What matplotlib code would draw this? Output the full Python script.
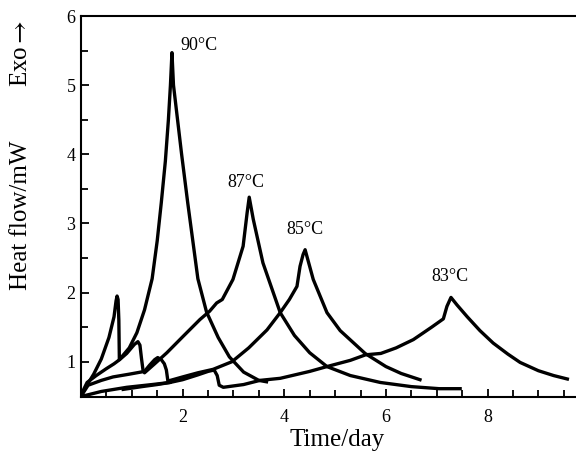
import matplotlib
matplotlib.use('Agg')
import matplotlib.pyplot as plt
from matplotlib.ticker import MultipleLocator

plt.rcParams['font.family'] = ['Liberation Serif', 'DejaVu Serif']
plt.rcParams['mathtext.fontset'] = 'stix'

# 90 C : spike, then main peak
t90 = [0.0, 0.1, 0.25, 0.4, 0.55, 0.65, 0.69, 0.71, 0.73, 0.745, 0.755,
       0.95, 1.1, 1.25, 1.4, 1.5, 1.58, 1.66, 1.72, 1.76, 1.79,
       1.82, 1.9, 1.98, 2.1, 2.2, 2.3, 2.47, 2.7, 2.92, 3.2, 3.5, 3.65]
q90 = [0.5, 0.64, 0.82, 1.04, 1.35, 1.65, 1.88, 1.95, 1.9, 1.6, 1.03,
       1.2, 1.42, 1.75, 2.2, 2.75, 3.3, 3.9, 4.5, 5.0, 5.47,
       5.0, 4.5, 4.0, 3.3, 2.75, 2.2, 1.72, 1.35, 1.07, 0.85, 0.73, 0.71]

# 87 C
t87 = [0.0, 0.12, 0.3, 0.5, 0.65, 0.76, 0.9, 1.05, 1.12, 1.16, 1.19, 1.22, 1.25,
       1.45, 1.69, 2.0, 2.34, 2.53, 2.67, 2.78, 2.99, 3.19, 3.27, 3.31,
       3.39, 3.58, 3.92, 4.2, 4.5, 4.84, 5.3, 5.89, 6.5, 7.05, 7.46]
q87 = [0.52, 0.7, 0.8, 0.9, 0.97, 1.03, 1.12, 1.25, 1.29, 1.24, 1.05, 0.88, 0.84,
       0.97, 1.13, 1.36, 1.61, 1.73, 1.85, 1.9, 2.19, 2.67, 3.16, 3.38,
       3.06, 2.43, 1.71, 1.38, 1.13, 0.93, 0.8, 0.7, 0.64, 0.61, 0.61]

# 85 C
t85 = [0.0, 0.14, 0.4, 0.63, 0.95, 1.25, 1.35, 1.45, 1.51, 1.58, 1.64, 1.68, 1.71,
       2.0, 2.3, 2.6, 2.97, 3.3, 3.66, 3.92, 4.1, 4.25, 4.31, 4.37, 4.41,
       4.57, 4.84, 5.1, 5.59, 6.0, 6.3, 6.67]
q85 = [0.5, 0.66, 0.73, 0.78, 0.82, 0.86, 0.95, 1.03, 1.06, 1.03, 0.97, 0.88, 0.72,
       0.78, 0.84, 0.89, 1.0, 1.2, 1.46, 1.71, 1.9, 2.09, 2.38, 2.55, 2.62,
       2.19, 1.71, 1.45, 1.12, 0.93, 0.83, 0.74]

# 83 C
t83 = [0.02, 0.4, 0.9, 1.4, 1.75, 2.0, 2.3, 2.5, 2.62, 2.68, 2.72, 2.8,
       3.2, 3.52, 3.92, 4.5, 4.84, 5.3, 5.6, 5.9, 6.2, 6.54, 6.9, 7.13, 7.2, 7.28,
       7.4, 7.6, 7.85, 8.11, 8.4, 8.64, 9.0, 9.3, 9.57]
q83 = [0.5, 0.57, 0.63, 0.67, 0.7, 0.74, 0.81, 0.86, 0.88, 0.8, 0.66, 0.63,
       0.67, 0.73, 0.76, 0.86, 0.93, 1.02, 1.1, 1.12, 1.2, 1.32, 1.5, 1.62, 1.8, 1.93,
       1.82, 1.65, 1.45, 1.27, 1.11, 0.99, 0.87, 0.8, 0.75]

# short extra trace near the baseline
t_seg = [0.83, 1.2, 1.5, 1.75]
q_seg = [0.6, 0.64, 0.67, 0.7]

labels = ['90°C', '87°C', '85°C', '83°C']
label_x = [1.96, 2.88, 4.04, 6.9]
label_y = [5.57, 3.59, 2.91, 2.23]

fig = plt.figure(figsize=(5.76, 4.55), dpi=100)
ax = fig.add_axes([0.1406, 0.1275, 0.8594, 0.8373])

for t, q in [(t90, q90), (t87, q87), (t85, q85), (t83, q83), (t_seg, q_seg)]:
    ax.plot(t, q, color='black', lw=2.4, solid_joinstyle='round')

for lab, x, y in zip(labels, label_x, label_y):
    ax.text(x, y, lab, fontsize=13, ha='left', va='center')

ax.set_xlim(0, 9.74)
ax.set_ylim(0.49, 6.0)
ax.xaxis.set_major_locator(MultipleLocator(2))
ax.xaxis.set_minor_locator(MultipleLocator(0.5))
ax.yaxis.set_major_locator(MultipleLocator(1))
ax.yaxis.set_minor_locator(MultipleLocator(0.5))
ax.tick_params(which='both', direction='in', top=False, right=False, width=1.3)
ax.tick_params(which='major', length=6, labelsize=13)
ax.tick_params(axis='x', which='major', pad=9)
ax.tick_params(axis='y', which='major', pad=4)
ax.tick_params(which='minor', length=5)
ax.xaxis.set_major_formatter(plt.FuncFormatter(lambda v, p: '%d' % v if v > 0 else ''))

ax.spines['right'].set_visible(False)
for s in ['left', 'bottom', 'top']:
    ax.spines[s].set_linewidth(1.5)

ax.set_xlabel('Time/day', fontsize=18)
ax.xaxis.set_label_coords(0.517, -0.113)
ax.set_ylabel('Heat flow/mW', fontsize=18)
ax.yaxis.set_label_coords(-0.121, 0.478)
ax.yaxis.label.set_va('center')
ax.xaxis.label.set_va('center')
ax.text(-0.121, 0.903, r'Exo$\rightarrow$', transform=ax.transAxes, rotation=90,
        fontsize=18, ha='center', va='center')

fig.savefig('out.png', dpi=100)
